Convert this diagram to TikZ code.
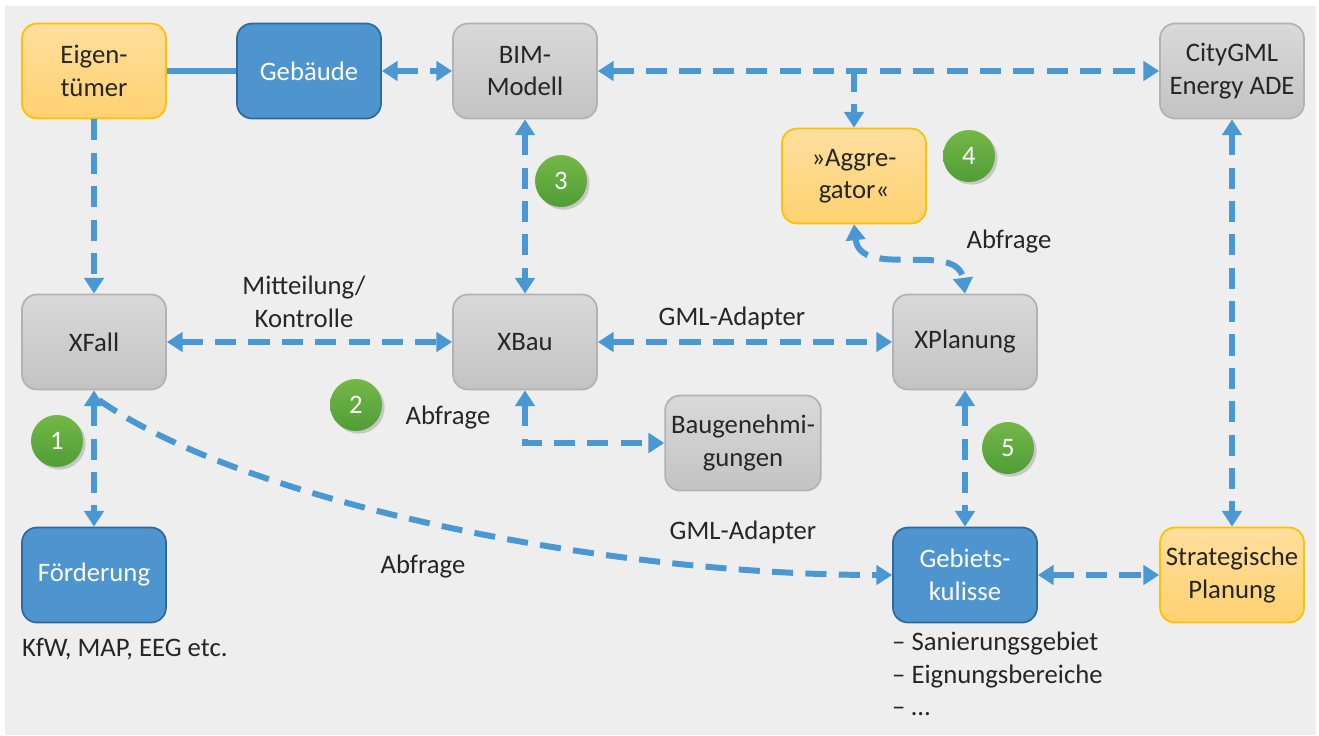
\documentclass[tikz,border=0pt]{standalone}
\usepackage{fontspec}
\setmainfont{Carlito}
\usepackage{tikz}
\usetikzlibrary{positioning}
\usetikzlibrary{calc}
\usetikzlibrary{arrows.meta}
\usetikzlibrary{shadows}
\definecolor{hintergrund}{HTML}{EEEEEE}
\definecolor{linkblau}{HTML}{4A98D3}
\definecolor{textgrau}{HTML}{262626}
\definecolor{gelbrand}{HTML}{FFC000}
\definecolor{gelboben}{HTML}{FFDF9E}
\definecolor{gelbunten}{HTML}{FFD170}
\definecolor{blaufill}{HTML}{4E95D0}
\definecolor{blaurand}{HTML}{2E6A9C}
\definecolor{grauoben}{HTML}{D9D9D9}
\definecolor{grauunten}{HTML}{C3C3C3}
\definecolor{graurand}{HTML}{B2B2B2}
\definecolor{gruenoben}{HTML}{74B747}
\definecolor{gruenunten}{HTML}{4F9E36}
\tikzset{KMstyle/.style={
    x=0.02cm,% one unit = one pixel of the sketch
    y=-0.02cm,
    font=\fontsize{15.2}{18.5}\selectfont,
    every node/.style={align=center, text=textgrau},
    box/.style={% common look of all boxes
      rounded corners=0.3cm,
      minimum width=2.88cm,
      minimum height=1.9cm,
      line width=1pt
    },
    gelbbox/.style={box, draw=gelbrand, top color=gelboben, bottom color=gelbunten},
    blaubox/.style={box, draw=blaurand, fill=blaufill, text=white},
    graubox/.style={box, draw=graurand, top color=grauoben, bottom color=grauunten},
    nummer/.style={% green markers
      circle,
      minimum size=1.04cm,
      inner sep=0pt,
      top color=gruenoben,
      bottom color=gruenunten,
      text=white,
      drop shadow={opacity=0.35, shadow xshift=1.5pt, shadow yshift=-1.5pt}
    },
    link/.style={linkblau, line width=3.4pt, dash pattern=on 12pt off 7pt},
    >={Triangle[length=9pt,width=11pt]}
  }
}

\begin{document}
\begin{tikzpicture}[KMstyle]
  \useasboundingbox (0,0) rectangle (1319,735);
  \fill[hintergrund] (5,6) rectangle (1316,735);

  % boxes
  \node[gelbbox] (eigen) at (94,71) {Eigen-\\tümer};
  \node[blaubox] (gebaeude) at (309,71) {Gebäude};
  \node[graubox] (bim) at (525,71) {BIM-\\Modell};
  \node[graubox] (citygml) at (1232,71) {CityGML\\Energy ADE};
  \node[gelbbox] (aggregator) at (854,176) {»Aggre-\\gator«};
  \node[graubox] (xfall) at (94,342) {XFall};
  \node[graubox] (xbau) at (525,342) {XBau};
  \node[graubox] (xplanung) at (965,342) {XPlanung};
  \node[graubox, minimum width=3.06cm] (baugen) at (743,443) {Baugenehmi-\\gungen};
  \node[blaubox] (foerderung) at (94,575) {Förderung};
  \node[blaubox] (gebiet) at (965,575) {Gebiets-\\kulisse};
  \node[gelbbox] (strategie) at (1232,575) {Strategische\\Planung};

  % labels
  \node (mitteilung) at (304,302) {Mitteilung/\\Kontrolle};
  \node (adapteroben) at (732,318) {GML-Adapter};
  \node (abfrageagg) at (1009,242) {Abfrage};
  \node (abfragebau) at (448,418) {Abfrage};
  \node (adapterunten) at (743,532) {GML-Adapter};
  \node (abfragefall) at (423,567) {Abfrage};
  \node[anchor=west] (kfw) at (16,649) {KfW, MAP, EEG etc.};
  \node[anchor=north west, align=left] (liste) at (886,626)
    {– Sanierungsgebiet\\– Eignungsbereiche\\– …};

  % connectors
  \coordinate (abzweig) at (aggregator.north |- bim.east);
  \coordinate (kurvenstart) at (99,400);
  \draw[linkblau, line width=3.4pt] (eigen) -- (gebaeude);
  \path[link,<->] (gebaeude) edge (bim)
            (bim) edge (citygml)
            (bim) edge (xbau)
            (xfall) edge (xbau)
            (xbau) edge (xplanung)
            (xfall) edge (foerderung)
            (xplanung) edge (gebiet)
            (citygml) edge (strategie)
            (gebiet) edge (strategie)
  ;
  \draw[link,->] (eigen) -- (xfall);
  \draw[link,->] (abzweig) -- (aggregator);
  \draw[link,<->] (aggregator.south) .. controls (860,280) and (958,240) .. (xplanung.north);
  \draw[link,<->] (xbau.south) |- (baugen.west);
  \draw[link,->] (kurvenstart) .. controls (240,500) and (600,575) .. (gebiet.west);

  % markers
  \node[nummer] (n1) at (57,441) {1};
  \node[nummer] (n2) at (356,405) {2};
  \node[nummer] (n3) at (561,181) {3};
  \node[nummer] (n4) at (969,156) {4};
  \node[nummer] (n5) at (1008,448) {5};
\end{tikzpicture}
\end{document}
